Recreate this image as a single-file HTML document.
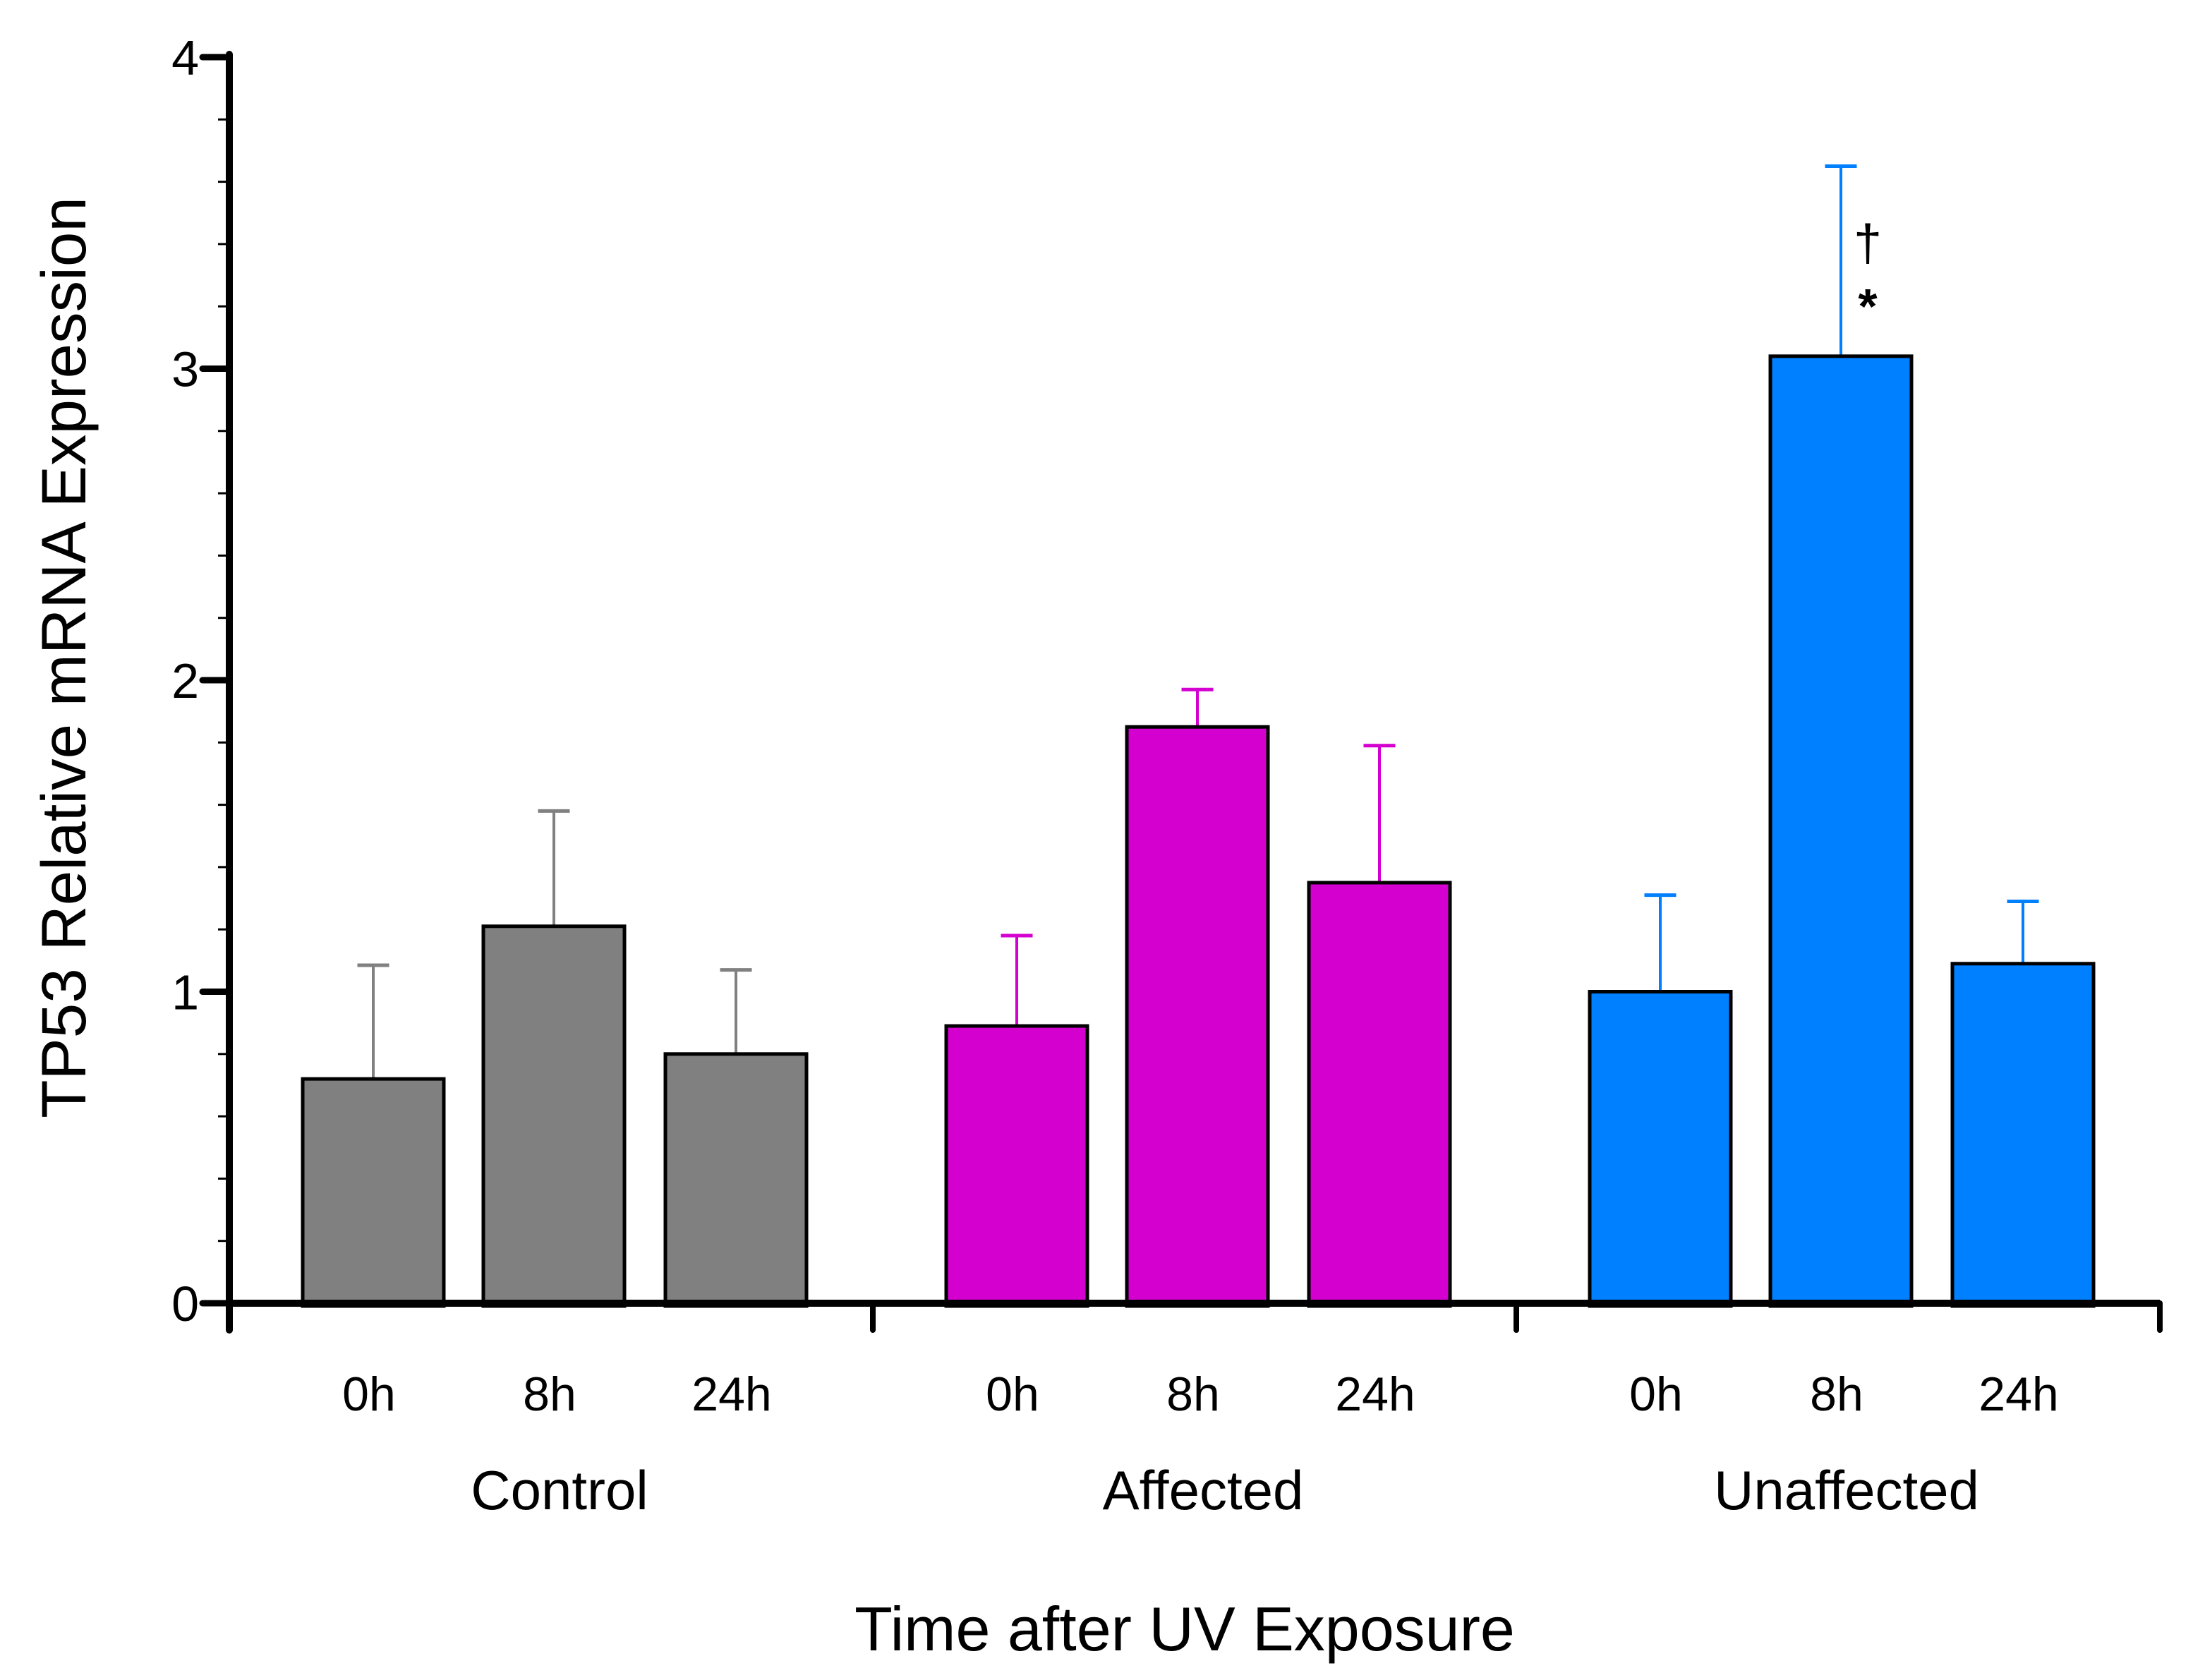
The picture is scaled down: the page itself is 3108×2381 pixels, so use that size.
<!DOCTYPE html>
<html><head><meta charset="utf-8"><style>
html,body{margin:0;padding:0;background:#fff;}
svg{display:block;font-family:"Liberation Sans",Arial,sans-serif;}
</style></head><body>
<svg id="chart" width="3108" height="2381" viewBox="0 0 3108 2381" xmlns="http://www.w3.org/2000/svg">
<g id="bars"></g>
<g id="axes"></g>
<text x="0" y="0" font-size="89" text-anchor="middle" transform="translate(121,932) rotate(-90)">TP53 Relative mRNA Expression</text>
<text x="1679" y="2339" font-size="88" text-anchor="middle">Time after UV Exposure</text>
</svg>
<script>
const groups = ["Control", "Affected", "Unaffected"];
const times = ["0h", "8h", "24h"];
const controlValues = [0.72, 1.21, 0.80];
const controlErrors = [1.085, 1.58, 1.07];
const affectedValues = [0.89, 1.85, 1.35];
const affectedErrors = [1.18, 1.97, 1.79];
const unaffectedValues = [1.00, 3.04, 1.09];
const unaffectedErrors = [1.31, 3.65, 1.29];
const yTicks = [0, 1, 2, 3, 4];
const groupColors = ["#808080", "#d400d0", "#007fff"];

const NS = "http://www.w3.org/2000/svg";
const X0 = 325, GROUPW = 912, Y0 = 1847, UNIT = 441.5;
const slotOffsets = [204, 460, 718];
const BARW = 200;
function y(v){ return Y0 - v*UNIT; }
function xBar(g,i){ return X0 + g*GROUPW + slotOffsets[i]; }
function mk(tag, attrs, parent){
  const e = document.createElementNS(NS, tag);
  for (const k in attrs) e.setAttribute(k, attrs[k]);
  parent.appendChild(e);
  return e;
}
const barsG = document.getElementById("bars");
const axesG = document.getElementById("axes");
const allVals = [controlValues, affectedValues, unaffectedValues];
const allErrs = [controlErrors, affectedErrors, unaffectedErrors];

for (let g=0; g<groups.length; g++){
  for (let i=0; i<times.length; i++){
    const cx = xBar(g,i), v = allVals[g][i], e = allErrs[g][i];
    const col = groupColors[g];
    const eb = mk("line", {x1:cx, x2:cx, y1:y(v), y2:y(e), stroke:col, "stroke-width":4}, barsG);
    
    
    const cap = mk("line", {x1:cx-22.5, x2:cx+22.5, y1:y(e), y2:y(e), stroke:col, "stroke-width":5}, barsG);
    
    
    const r = mk("rect", {x:cx-BARW/2, y:y(v), width:BARW, height:Y0+4-y(v), fill:col, stroke:"#000", "stroke-width":5}, barsG);
    
    
    const t = mk("text", {x:cx-6, y:1999, "font-size":68, "text-anchor":"middle"}, axesG);
    t.textContent = times[i];
    
    
  }
  const gl = mk("text", {x:xBar(g,1)+8, y:2139, "font-size":78, "text-anchor":"middle"}, axesG);
  gl.textContent = groups[g];
  
  
}

// y axis
const ya = mk("line", {x1:X0, x2:X0, y1:y(4)-4, y2:1885, stroke:"#000", "stroke-width":10, "stroke-linecap":"round"}, axesG);


for (let k=0; k<yTicks.length; k++){
  const tv = yTicks[k];
  const tk = mk("line", {x1:287, x2:X0, y1:y(tv), y2:y(tv), stroke:"#000", "stroke-width":9, "stroke-linecap":"round"}, axesG);
  
  
  const lb = mk("text", {x:282, y:y(tv)+25, "font-size":70, "text-anchor":"end"}, axesG);
  lb.textContent = tv;
  
  
  if (k < yTicks.length-1){
    for (let m=1; m<5; m++){
      const mv = tv + m*0.2;
      const mt = mk("line", {x1:309, x2:X0, y1:y(mv), y2:y(mv), stroke:"#000", "stroke-width":3}, axesG);
      
      
    }
  }
}
// x axis
const xa = mk("line", {x1:X0, x2:X0+3*GROUPW, y1:Y0, y2:Y0, stroke:"#000", "stroke-width":10}, axesG);


for (let g=1; g<=3; g++){
  const gx = X0 + g*GROUPW;
  const gt = mk("line", {x1:gx, x2:gx, y1:Y0, y2:1885, stroke:"#000", "stroke-width":8, "stroke-linecap":"round"}, axesG);
  
  
}
// significance markers
const dg = mk("text", {x:2647, y:369, "font-size":72, "text-anchor":"middle"}, axesG);
dg.textContent = "†";


const st = mk("text", {x:2647, y:458, "font-size":70, "text-anchor":"middle", "font-weight":"bold"}, axesG);
st.textContent = "*";


</script>
</body></html>
